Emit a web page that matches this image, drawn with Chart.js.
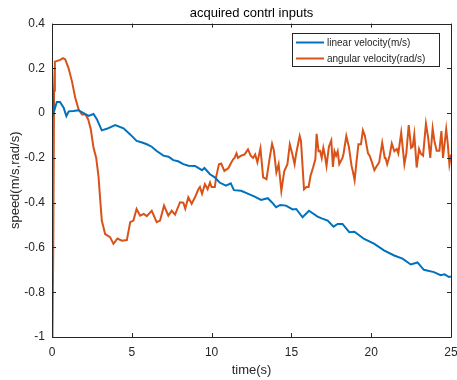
<!DOCTYPE html>
<html>
<head>
<meta charset="utf-8">
<script src="https://cdn.jsdelivr.net/npm/chart.js@4"></script>
<style>
  html, body { margin: 0; padding: 0; background: #fff; }
  #wrap { width: 457px; height: 380px; }
</style>
</head>
<body>
<div id="wrap"><canvas id="c"></canvas></div>
<script>
const xTicks = [0, 5, 10, 15, 20, 25];
const yTicks = [-1, -0.8, -0.6, -0.4, -0.2, 0, 0.2, 0.4];

const linearTime = [0, 0.1, 0.3, 0.5, 0.73, 0.9, 1.05, 1.35, 1.65, 1.98, 2.29, 2.6, 2.81, 3.12, 3.43,
  3.96, 4.48, 4.9, 5.3, 5.6, 5.94, 6.25, 6.56, 6.98, 7.3, 7.6, 7.9, 8.23, 8.55, 8.96, 9.4, 9.55,
  9.9, 10.2, 10.5, 10.9, 11.2, 11.4, 11.85, 12.3, 12.7, 13.1, 13.52, 13.8, 14.04, 14.3, 14.66,
  15.08, 15.3, 15.7, 16.1, 16.64, 16.9, 17.27, 17.64, 17.9, 18.2, 18.63, 18.95, 19.56, 20.2, 20.8,
  21.44, 21.96, 22.48, 22.9, 23.3, 23.93, 24.35, 24.6, 24.87, 25];
const linearVel = [0.22, 0.0, 0.05, 0.05, 0.024, -0.013, 0.008, 0.01, 0.013, 0.0, -0.012, -0.004, -0.027, -0.077, -0.07,
  -0.053, -0.068, -0.095, -0.124, -0.13, -0.139, -0.15, -0.169, -0.19, -0.195, -0.21, -0.215, -0.228, -0.235, -0.236, -0.255, -0.245,
  -0.273, -0.287, -0.31, -0.324, -0.314, -0.344, -0.347, -0.361, -0.373, -0.388, -0.38, -0.4, -0.42, -0.41, -0.413,
  -0.43, -0.428, -0.465, -0.436, -0.462, -0.47, -0.48, -0.507, -0.495, -0.495, -0.532, -0.53, -0.562, -0.584, -0.613,
  -0.636, -0.65, -0.676, -0.667, -0.7, -0.71, -0.724, -0.72, -0.732, -0.73];

const angularTime = [0.03, 0.08, 0.13, 0.18, 0.52, 0.69, 0.83, 1.04, 1.25, 1.46, 1.67, 1.88, 2.1, 2.27, 2.43,
  2.6, 2.77, 2.92, 2.98, 3.12, 3.33, 3.64, 3.85, 4.1, 4.38, 4.69, 4.9, 5.1, 5.3, 5.52, 5.75, 5.94,
  6.25, 6.56, 6.77, 7.02, 7.29, 7.5, 7.71, 8.02, 8.23, 8.35, 8.54, 8.75, 8.96, 9.17, 9.27, 9.4,
  9.58, 9.75, 9.9, 10.0, 10.2, 10.3, 10.46, 10.6, 10.8, 11.06, 11.2, 11.35, 11.44, 11.56, 11.65,
  11.85, 12.06, 12.28, 12.45, 12.6, 12.73, 12.87, 13.06, 13.23, 13.44, 13.64, 13.79, 13.9, 14.06,
  14.2, 14.37, 14.55, 14.75, 14.9, 15.05, 15.2, 15.3, 15.52, 15.6, 15.79, 15.94, 16.08, 16.2, 16.35,
  16.5, 16.58, 16.7, 16.8, 16.9, 17.0, 17.1, 17.2, 17.35, 17.5, 17.6, 17.7, 17.8, 17.9, 18.0, 18.2,
  18.27, 18.44, 18.6, 18.77, 18.85, 18.96, 19.06, 19.2, 19.36, 19.48, 19.6, 19.8, 19.9, 20.05, 20.2,
  20.35, 20.5, 20.69, 20.85, 20.9, 21.0, 21.15, 21.29, 21.45, 21.6, 21.7, 21.88, 22.08, 22.2, 22.35,
  22.5, 22.6, 22.7, 22.85, 23.0, 23.1, 23.25, 23.43, 23.57, 23.7, 23.85, 23.96, 24.1, 24.27, 24.4,
  24.5, 24.7, 24.8, 24.9, 25];
const angularVel = [-1, -0.6, 0.1, 0.23, 0.238, 0.246, 0.24, 0.2, 0.142, 0.068, 0.016, -0.006, -0.006, -0.028, -0.072,
  -0.154, -0.2, -0.287, -0.347, -0.48, -0.54, -0.554, -0.584, -0.56, -0.57, -0.567, -0.487, -0.48, -0.428, -0.458, -0.45, -0.46,
  -0.436, -0.487, -0.48, -0.413, -0.458, -0.436, -0.453, -0.398, -0.4, -0.427, -0.376, -0.405, -0.376, -0.34, -0.33, -0.36,
  -0.317, -0.34, -0.31, -0.33, -0.33, -0.28, -0.228, -0.225, -0.258, -0.245, -0.225, -0.206, -0.2, -0.18, -0.2,
  -0.19, -0.185, -0.162, -0.19, -0.2, -0.185, -0.22, -0.157, -0.287, -0.295, -0.2, -0.137, -0.165, -0.265,
  -0.228, -0.347, -0.26, -0.228, -0.139, -0.18, -0.228, -0.18, -0.102, -0.124, -0.34, -0.33, -0.33, -0.28, -0.245,
  -0.206, -0.092, -0.17, -0.169, -0.2, -0.155, -0.19, -0.236, -0.15, -0.122, -0.24, -0.17, -0.19, -0.17, -0.228, -0.2,
  -0.18, -0.102, -0.15, -0.236, -0.26, -0.3, -0.23, -0.139, -0.139, -0.077, -0.1, -0.18, -0.19, -0.22, -0.255,
  -0.236, -0.22, -0.132, -0.2, -0.2, -0.228, -0.19, -0.136, -0.17, -0.16, -0.18, -0.087, -0.228, -0.18, -0.053,
  -0.155, -0.15, -0.095, -0.243, -0.16, -0.18, -0.19, -0.047, -0.11, -0.2, -0.068, -0.124, -0.168, -0.168, -0.08,
  -0.2, -0.072, -0.139, -0.228, -0.185];

const seriesNames = ['linear velocity(m/s)', 'angular velocity(rad/s)'];
const seriesColors = ['#0072BD', '#D95319'];

function pairs(xs, ys) {
  return xs.map((x, i) => ({ x: x, y: ys[i] }));
}

const axisColor = '#262626';
const fontFamily = '"Liberation Sans", Arial, Helvetica, sans-serif';

// box around the plot, inward tick marks and the in-plot legend (MATLAB look)
const frame = {
  id: 'frame',
  afterDatasetsDraw(chart) {
    const { ctx, chartArea: a, scales } = chart;
    ctx.save();
    ctx.strokeStyle = axisColor;
    ctx.lineWidth = 1;
    ctx.beginPath();
    ctx.rect(Math.round(a.left) + 0.5, Math.round(a.top) + 0.5,
      Math.round(a.right - a.left), Math.round(a.bottom - a.top));
    const len = 4;
    xTicks.forEach(v => {
      const px = Math.round(scales.x.getPixelForValue(v)) + 0.5;
      ctx.moveTo(px, a.bottom); ctx.lineTo(px, a.bottom - len);
      ctx.moveTo(px, a.top); ctx.lineTo(px, a.top + len);
    });
    yTicks.forEach(v => {
      const py = Math.round(scales.y.getPixelForValue(v)) + 0.5;
      ctx.moveTo(a.left, py); ctx.lineTo(a.left + len, py);
      ctx.moveTo(a.right, py); ctx.lineTo(a.right - len, py);
    });
    ctx.stroke();

    // legend
    const lx = 292.5, ly = 33.5, lw = 147, lh = 33;
    ctx.fillStyle = '#fff';
    ctx.fillRect(lx, ly, lw, lh);
    ctx.strokeRect(lx, ly, lw, lh);
    ctx.font = '10px ' + fontFamily;
    ctx.textBaseline = 'middle';
    ctx.textAlign = 'left';
    seriesNames.forEach((name, i) => {
      const y = 42.5 + i * 16;
      ctx.strokeStyle = seriesColors[i];
      ctx.lineWidth = 2;
      ctx.beginPath();
      ctx.moveTo(296, y); ctx.lineTo(324, y);
      ctx.stroke();
      ctx.fillStyle = axisColor;
      ctx.fillText(name, 327, y + 0.5);
    });
    ctx.restore();
  }
};

new Chart(document.getElementById('c').getContext('2d'), {
  type: 'line',
  data: {
    datasets: [
      { label: seriesNames[0], data: pairs(linearTime, linearVel), borderColor: seriesColors[0] },
      { label: seriesNames[1], data: pairs(angularTime, angularVel), borderColor: seriesColors[1] }
    ]
  },
  options: {
    responsive: true,
    maintainAspectRatio: false,
    animation: false,
    layout: { padding: { left: 0, right: 6, top: 0, bottom: 0 } },
    elements: {
      point: { radius: 0 },
      line: { borderWidth: 2, tension: 0, fill: false }
    },
    plugins: {
      legend: { display: false },
      tooltip: { enabled: false },
      title: {
        display: true,
        text: 'acquired contrl inputs',
        fullSize: false,
        color: '#000',
        font: { family: fontFamily, size: 13, weight: 'normal', lineHeight: 1.2 },
        padding: { top: 5.5, bottom: 2.5 }
      }
    },
    scales: {
      x: {
        type: 'linear',
        min: 0,
        max: 25,
        afterFit: s => { s.height = 43; s.paddingLeft = 0; s.paddingRight = 0; },
        afterBuildTicks: s => { s.ticks = xTicks.map(v => ({ value: v })); },
        ticks: { color: axisColor, padding: 8, maxRotation: 0, font: { family: fontFamily, size: 12 } },
        grid: { display: true, drawOnChartArea: false, drawTicks: false },
        border: { display: false },
        title: {
          display: true,
          text: 'time(s)',
          color: axisColor,
          font: { family: fontFamily, size: 13, lineHeight: 1.2 },
          padding: { top: 0, bottom: 1.5 }
        }
      },
      y: {
        min: -1,
        max: 0.4,
        afterFit: s => { s.width = 52; },
        afterBuildTicks: s => { s.ticks = yTicks.map(v => ({ value: v })); },
        ticks: {
          color: axisColor,
          padding: 7,
          font: { family: fontFamily, size: 12 },
          callback: v => String(Number(v.toFixed(1)))
        },
        grid: { display: true, drawOnChartArea: false, drawTicks: false },
        border: { display: false },
        title: {
          display: true,
          text: 'speed(m/s,rad/s)',
          color: axisColor,
          font: { family: fontFamily, size: 13, lineHeight: 1.2 },
          padding: { top: 8, bottom: 0 }
        }
      }
    }
  },
  plugins: [frame]
});
</script>
</body>
</html>
